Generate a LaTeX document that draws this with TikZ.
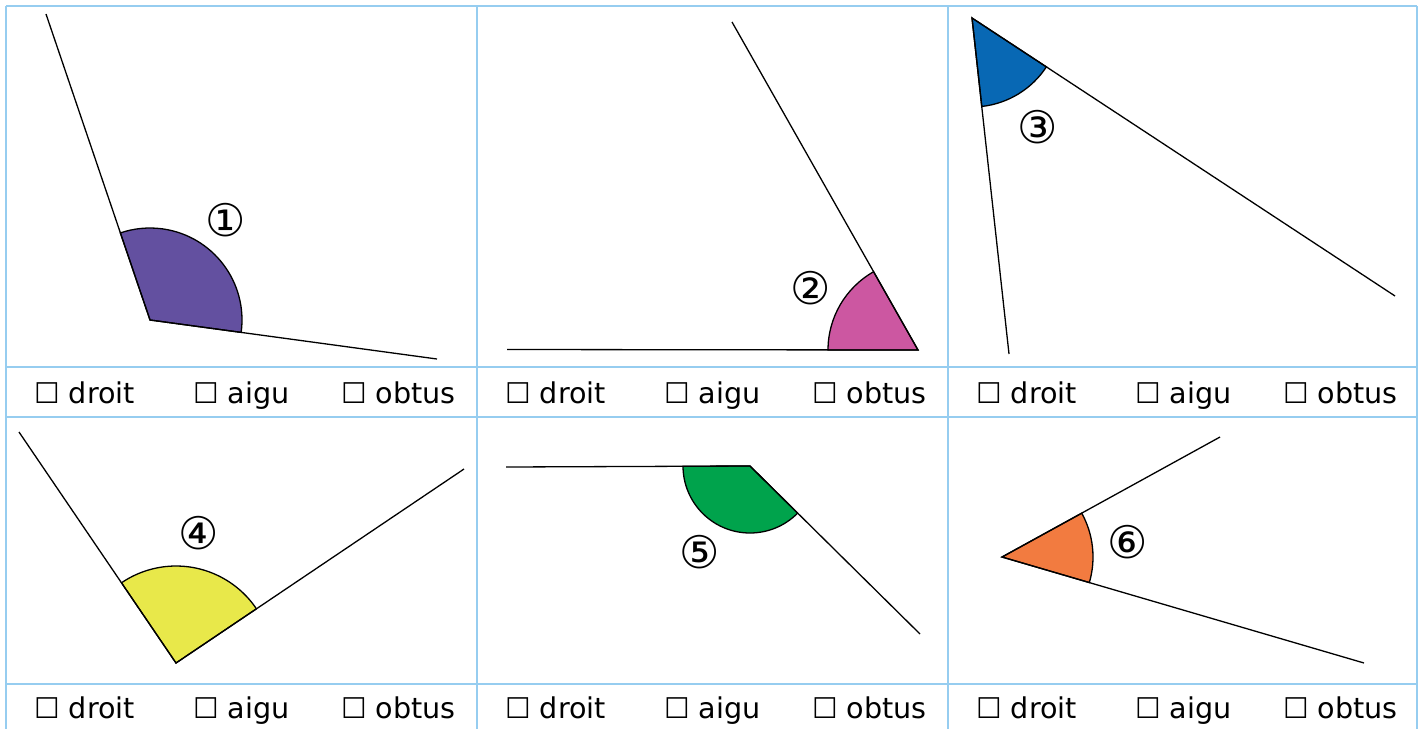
\documentclass[tikz,border=0pt]{standalone}
\usepackage{fontspec}
\setmainfont{DejaVu Sans}
\begin{document}
\begin{tikzpicture}[x=1pt,y=-1pt,
  grid/.style={draw={rgb,255:red,150;green,205;blue,240},line width=1.5pt},
  ray/.style={draw=black,line width=1.3pt},
  sector/.style={draw=black,line width=1.3pt},
  lbl/.style={inner sep=0pt,anchor=base west,font=\fontsize{28.6}{34}\selectfont},
  num/.style={inner sep=0pt,font=\fontsize{45}{50}\selectfont}]
\definecolor{cpurple}{RGB}{99,80,160}
\definecolor{cpink}{RGB}{204,87,161}
\definecolor{cblue}{RGB}{8,104,180}
\definecolor{cyellow}{RGB}{232,232,74}
\definecolor{cgreen}{RGB}{0,163,76}
\definecolor{corange}{RGB}{242,123,64}
\useasboundingbox (0,0) rectangle (1420,729);
% grid
\draw[grid] (6,6) -- (1417,6);
\draw[grid] (6,367) -- (1417,367);
\draw[grid] (6,417) -- (1417,417);
\draw[grid] (6,684) -- (1417,684);
\draw[grid] (6,6) -- (6,729);
\draw[grid] (477,6) -- (477,729);
\draw[grid] (948,6) -- (948,729);
\draw[grid] (1417,6) -- (1417,729);
% labels
\foreach \cx/\n in {0/a,471/b,942/c}{
  \foreach \ry/\m in {403/1,718/2}{
    \node[lbl] (d\n\m) at (34+\cx,\ry) {☐ droit};
    \node[lbl] (a\n\m) at (193+\cx,\ry) {☐ aigu};
    \node[lbl] (o\n\m) at (341+\cx,\ry) {☐ obtus};
  }
}
% angle 1
\coordinate (v1) at (150,320);
\coordinate (p1) at (46,14);
\coordinate (q1) at (437,359);
\filldraw[sector,fill=cpurple] (v1) -- ++(7.74:92) arc[start angle=7.74,end angle=-108.8,radius=92] -- cycle;
\draw[ray] (p1) -- (v1) -- (q1);
\node[num] (n1) at (226,220) {①};
% angle 2
\coordinate (v2) at (918,350);
\coordinate (p2) at (507,349.5);
\coordinate (q2) at (732,22);
\filldraw[sector,fill=cpink] (v2) -- ++(180:90) arc[start angle=180,end angle=240.4,radius=90] -- cycle;
\draw[ray] (p2) -- (v2) -- (q2);
\node[num] (n2) at (811,288) {②};
% angle 3
\coordinate (v3) at (972,18);
\coordinate (p3) at (1009,354);
\coordinate (q3) at (1395,296);
\filldraw[sector,fill=cblue] (v3) -- ++(33.3:89) arc[start angle=33.3,end angle=83.7,radius=89] -- cycle;
\draw[ray] (p3) -- (v3) -- (q3);
\node[num] (n3) at (1038,127) {③};
% angle 4
\coordinate (v4) at (176,663);
\coordinate (p4) at (19,432);
\coordinate (q4) at (464,469);
\filldraw[sector,fill=cyellow] (v4) -- ++(235.8:97) arc[start angle=235.8,end angle=326,radius=97] -- cycle;
\draw[ray] (p4) -- (v4) -- (q4);
\node[num] (n4) at (199,533) {④};
% angle 5
\coordinate (v5) at (750,466);
\coordinate (p5) at (506,467);
\coordinate (q5) at (920,634);
\filldraw[sector,fill=cgreen] (v5) -- ++(44.7:67) arc[start angle=44.7,end angle=179.8,radius=67] -- cycle;
\draw[ray] (p5) -- (v5) -- (q5);
\node[num] (n5) at (700,552) {⑤};
% angle 6
\coordinate (v6) at (1002,557);
\coordinate (p6) at (1220,437);
\coordinate (q6) at (1364,663);
\filldraw[sector,fill=corange] (v6) -- ++(-28.8:91) arc[start angle=-28.8,end angle=16.3,radius=91] -- cycle;
\draw[ray] (p6) -- (v6) -- (q6);
\node[num] (n6) at (1128,542) {⑥};
\end{tikzpicture}
\end{document}
